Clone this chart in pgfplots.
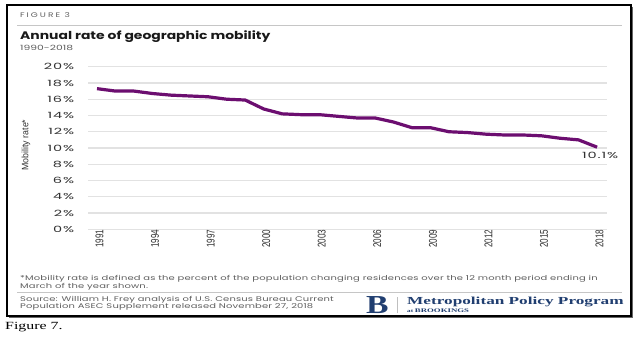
\documentclass[border=0pt]{standalone}
\usepackage{pgfplots}
\pgfplotsset{compat=1.18}
\usepackage{fontspec}
\setmainfont{Poppins}[FakeStretch=1.2]
\newfontfamily\tracked{Poppins}[FakeStretch=1.35, LetterSpace=30]
\newfontfamily\titlef{Poppins}[FakeStretch=1.27]
\newfontfamily\subf{Poppins}[FakeStretch=1.5]
\newfontfamily\notef{Poppins}[FakeStretch=1.47, LetterSpace=2.5]
\newfontfamily\tickf{Poppins}[FakeStretch=1.7, LetterSpace=10]
\newfontfamily\cond{Liberation Sans}[FakeStretch=0.72]
\newfontfamily\ylab{Liberation Sans}[FakeStretch=0.95]
\newfontfamily\logo{Liberation Serif}[FakeStretch=1.6]
\newfontfamily\logoB{Liberation Serif}[FakeStretch=1.3]
\newfontfamily\timesf{Liberation Serif}[FakeStretch=1.45]
\definecolor{mpurple}{RGB}{108,14,112}
\definecolor{gridgray}{RGB}{226,226,226}
\definecolor{txt}{RGB}{50,50,50}
\definecolor{lgray}{RGB}{95,95,95}
\definecolor{navy}{RGB}{32,62,112}
\newcommand{\fs}[1]{\fontsize{#1}{#1}\selectfont}
\begin{document}
\begin{tikzpicture}[x=1bp,y=1bp]
\useasboundingbox (0,0) rectangle (638,350);
\fill[white] (0,0) rectangle (638,350);
\begin{axis}[
  at={(88.3bp,120.7bp)}, anchor=south west,
  scale only axis, width=518.4bp, height=162.6bp,
  xmin=1990.53, xmax=2018.52, ymin=0, ymax=20,
  axis line style={draw=none}, tick style={draw=none},
  ytick={0,2,...,20},
  yticklabels={0\%,2\%,4\%,6\%,8\%,10\%,12\%,14\%,16\%,18\%,20\%},
  xtick={1991,1994,...,2018},
  xticklabels={1991,1994,1997,2000,2003,2006,2009,2012,2015,2018},
  ymajorgrids, grid style={color=gridgray, line width=1.3bp},
  yticklabel style={anchor=east, inner sep=0pt, xshift=-14bp, text=txt, font=\tickf\fs{8.6}},
  xticklabel style={rotate=90, anchor=east, inner sep=0pt, yshift=-2.5bp, text=txt, font=\cond\fs{11.3}},
  /pgf/number format/assume math mode=true,
  clip=false,
]
\addplot[mpurple, line width=3.2bp, line join=round, mark=none] coordinates {
(1991,17.3) (1992,17.0) (1993,17.0) (1994,16.7) (1995,16.5) (1996,16.4) (1997,16.3)
(1998,16.0) (1999,15.9) (2000,14.8) (2001,14.2) (2002,14.1) (2003,14.1) (2004,13.9)
(2005,13.7) (2006,13.7) (2007,13.2) (2008,12.5) (2009,12.5) (2010,12.0) (2011,11.9)
(2012,11.7) (2013,11.6) (2014,11.6) (2015,11.5) (2016,11.2) (2017,11.0) (2018,10.1)
};
\node[anchor=north, inner sep=0pt, text=txt, font=\tickf\fs{8.6}] at (axis cs:2018,10.1) [xshift=3bp, yshift=-5bp] {10.1\%};
\end{axis}
% header
\node[anchor=base west, inner sep=0pt, text=lgray] at (20,332.5) {\tracked\fs{6.7}FIGURE 3};
\draw[gray!45, line width=0.8bp] (17,325) -- (622,325);
\node[anchor=base west, inner sep=0pt, text=black!90] at (20,311) {\titlef\bfseries\fs{11}Annual rate of geographic mobility};
\node[anchor=base west, inner sep=0pt, text=lgray] at (20,299.3) {\subf\fs{7.2}1990-2018};
% y label
\node[rotate=90, inner sep=0pt, text=txt] at (26,205) {\ylab\fs{9.3}Mobility rate*};
% footnote
\node[anchor=base west, inner sep=0pt, text=lgray] at (20,69.2) {\notef\fs{6.8}*Mobility rate is defined as the percent of the population changing residences over the 12 month period ending in};
\node[anchor=base west, inner sep=0pt, text=lgray] at (20,61.8) {\notef\fs{6.8}March of the year shown.};
\draw[gray!45, line width=0.8bp] (17,57.3) -- (622,57.3);
\node[anchor=base west, inner sep=0pt, text=lgray] at (20,48.2) {\notef\fs{6.8}Source: William H. Frey analysis of U.S. Census Bureau Current};
\node[anchor=base west, inner sep=0pt, text=lgray] at (20,41.2) {\notef\fs{6.8}Population ASEC Supplement released November 27, 2018};
% logo
\node[anchor=base west, inner sep=0pt, text=navy] at (366,37) {\logoB\bfseries\fs{26}B};
\draw[gray!50, line width=0.6bp] (397,37) -- (397,53);
\node[anchor=base west, inner sep=0pt, text=navy] at (407,46) {\logo\bfseries\fs{10.8}Metropolitan Policy Program};
\node[anchor=base west, inner sep=0pt, text=navy] at (407,38) {\logo\bfseries\fs{4.5}at \fs{5.5}BROOKINGS};
% frame
\draw[black, line width=2.5bp] (7,345) rectangle (631,34);
\draw[black!60, line width=1bp] (632.8,343) -- (632.8,32.2) -- (9,32.2);
% caption
\node[anchor=base west, inner sep=0pt, text=black] at (5,21) {\timesf\fs{11}Figure 7.};
\end{tikzpicture}
\end{document}
